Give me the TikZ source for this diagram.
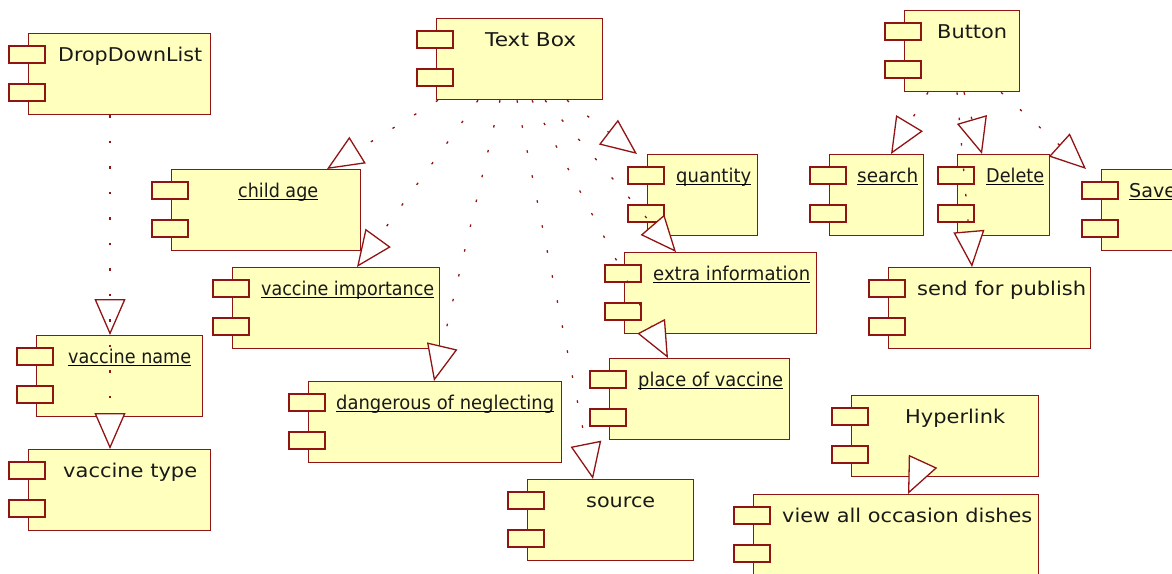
\documentclass[tikz,border=0pt]{standalone}
\usepackage{fontspec}
\setmainfont{DejaVu Sans}
\usepackage{graphicx}
\usetikzlibrary{arrows.meta}
\definecolor{dred}{RGB}{145,20,20}
\definecolor{cyel}{RGB}{255,255,190}
\tikzset{
  compmain/.style={rectangle, draw=dred, fill=cyel, line width=1.3pt, minimum height=81pt, inner sep=0pt},
  comptab/.style={draw=dred, fill=cyel, line width=1.3pt},
  complabel/.style={inner sep=0pt, text=black!90, font=\fontsize{19}{23}\selectfont},
  ulinest/.style={draw=black, line width=1.3pt},
  dep/.style={draw=dred, line width=1.3pt, dash pattern=on 2.5pt off 23pt,
    -{Triangle[length=36pt,width=31pt,fill=white,line join=miter]}}
}
% name, x, y(top), width, label x, label width, label text
\newcommand\compbox[7]{%
  \node[compmain, minimum width=#4pt, anchor=north west] (#1) at (#2,#3) {};
  \draw[comptab] ([xshift=-19pt,yshift=-13pt]#1.north west) rectangle ++(36,17);
  \draw[comptab] ([xshift=-19pt,yshift=-51pt]#1.north west) rectangle ++(36,17);
  \node[complabel, anchor=base west] (#1-l) at (#5,#3+28.5) {\resizebox{#6pt}{\height}{#7}};
}
\newcommand\compboxu[7]{%
  \compbox{#1}{#2}{#3}{#4}{#5}{#6}{#7}%
  \draw[ulinest] ([yshift=-2pt]#1-l.base west) -- ([yshift=-2pt]#1-l.base east);
}
\begin{document}
\begin{tikzpicture}[x=1pt,y=-1pt]
\useasboundingbox (0,0) rectangle (1172,573);
\fill[white] (0,0) rectangle (1172,573);
\clip (0,0) rectangle (1172,573);

\compbox{dd}{28}{33}{182}{58}{144}{DropDownList}
\compbox{tb}{436}{18}{166}{485}{91}{Text Box}
\compbox{btn}{904}{10}{115}{937}{70}{Button}
\compboxu{ca}{171}{169}{189}{238}{80}{child age}
\compboxu{vimp}{232}{267}{207}{261}{173}{vaccine importance}
\compboxu{dang}{308}{381}{253}{336}{218}{dangerous of neglecting}
\compbox{src}{527}{479}{166}{586}{69}{source}
\compboxu{place}{609}{358}{180}{638}{145}{place of vaccine}
\compboxu{qty}{647}{154}{110}{676}{75}{quantity}
\compboxu{extra}{624}{252}{192}{653}{157}{extra information}
\compboxu{search}{829}{154}{94}{857}{61}{search}
\compboxu{del}{957}{154}{92}{986}{58}{Delete}
\compboxu{save}{1101}{169}{100}{1129}{47}{Save}
\compbox{send}{888}{267}{202}{917}{169}{send for publish}
\compbox{hyp}{851}{395}{187}{905}{100}{Hyperlink}
\compbox{view}{753}{494}{285}{782}{250}{view all occasion dishes}
\compboxu{vn}{36}{335}{166}{68}{123}{vaccine name}
\compbox{vt}{28}{449}{182}{63}{134}{vaccine type}

% connectors
\draw[dep] ([xshift=82pt]dd.south west) -- ([xshift=74pt]vn.north west);
\draw[dep] ([xshift=82pt]dd.south west) -- ([xshift=82pt]vt.north west);
\draw[dep] ([xshift=2pt]tb.south west) -- ([xshift=156pt]ca.north west);
\draw[dep] ([xshift=42pt]tb.south west) -- ([xshift=125pt]vimp.north west);
\draw[dep] ([xshift=64pt]tb.south west) -- ([xshift=126pt]dang.north west);
\draw[dep] ([xshift=81pt]tb.south west) -- ([xshift=66pt]src.north west);
\draw[dep] ([xshift=96pt]tb.south west) -- ([xshift=59pt]place.north west);
\draw[dep] ([xshift=109pt]tb.south west) -- ([xshift=52pt]extra.north west);
\draw[dep] ([xshift=131pt]tb.south west) -- ([xshift=-10pt]qty.north west);
\draw[dep] ([xshift=24pt]btn.south west) -- ([xshift=62pt]search.north west);
\draw[dep] ([xshift=60pt]btn.south west) -- ([xshift=25pt]del.north west);
\draw[dep] ([xshift=53pt]btn.south west) -- ([xshift=84pt]send.north west);
\draw[dep] ([xshift=97pt]btn.south west) -- ([xshift=-15pt]save.north west);
\draw[dep] ([xshift=72pt,yshift=16pt]hyp.south west) -- ([xshift=155pt]view.north west);
\end{tikzpicture}
\end{document}
